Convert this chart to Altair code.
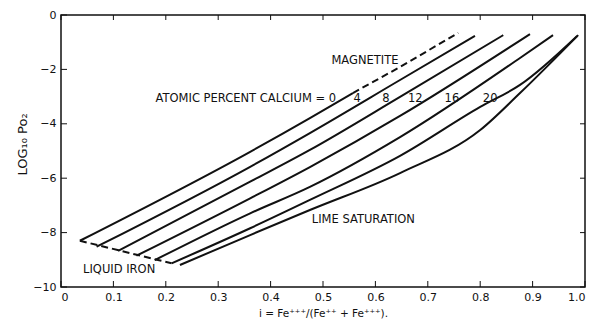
import altair as alt
import pandas as pd

# ---- data ----
x_ca0 = [0.036, 0.361, 0.475, 0.557]
y_ca0 = [-8.30, -5.03, -3.79, -2.87]
x_ca4 = [0.068, 0.361, 0.475, 0.647, 0.790]
y_ca4 = [-8.52, -5.58, -4.34, -2.39, -0.77]
x_ca8 = [0.109, 0.361, 0.475, 0.647, 0.844]
y_ca8 = [-8.67, -6.13, -4.96, -3.01, -0.74]
x_ca12 = [0.144, 0.361, 0.475, 0.647, 0.895]
y_ca12 = [-8.85, -6.74, -5.59, -3.71, -0.70]
x_ca16 = [0.179, 0.361, 0.475, 0.647, 0.876, 0.939]
y_ca16 = [-9.01, -7.29, -6.32, -4.49, -1.58, -0.74]
x_ca20 = [0.211, 0.361, 0.475, 0.647, 0.800, 0.876, 0.985]
y_ca20 = [-9.13, -7.84, -6.80, -5.18, -3.38, -2.57, -0.77]
x_lime = [0.227, 0.361, 0.475, 0.647, 0.800, 0.876, 0.987]
y_lime = [-9.19, -8.09, -7.17, -5.81, -4.23, -2.87, -0.74]

x_magnetite = [0.557, 0.647, 0.758]
y_magnetite = [-2.87, -1.91, -0.66]
x_liquid_iron = [0.036, 0.211]
y_liquid_iron = [-8.30, -9.13]

x_ticks = [0, 0.1, 0.2, 0.3, 0.4, 0.5, 0.6, 0.7, 0.8, 0.9, 1.0]
y_ticks = [0, -2, -4, -6, -8, -10]

ann_text = ["ATOMIC PERCENT CALCIUM = 0", "4", "8", "12", "16", "20",
            "MAGNETITE", "LIME SATURATION", "LIQUID IRON"]
ann_x = [0.525, 0.565, 0.620, 0.676, 0.746, 0.819, 0.580, 0.577, 0.111]
ann_y = [-3.09, -3.09, -3.09, -3.09, -3.09, -3.09, -1.68, -7.54, -9.38]
ann_align = ["right", "center", "center", "center", "center", "center",
             "center", "center", "center"]

solid = {
    "0": (x_ca0, y_ca0), "4": (x_ca4, y_ca4), "8": (x_ca8, y_ca8),
    "12": (x_ca12, y_ca12), "16": (x_ca16, y_ca16), "20": (x_ca20, y_ca20),
    "lime": (x_lime, y_lime),
}
rows = []
for name, (xs, ys) in solid.items():
    for i, (a, b) in enumerate(zip(xs, ys)):
        rows.append({"series": name, "i": i, "x": a, "y": b})
solid_df = pd.DataFrame(rows)

drows = []
for name, (xs, ys) in {"magnetite": (x_magnetite, y_magnetite),
                       "liquid": (x_liquid_iron, y_liquid_iron)}.items():
    for i, (a, b) in enumerate(zip(xs, ys)):
        drows.append({"series": name, "i": i, "x": a, "y": b})
dash_df = pd.DataFrame(drows)

ann_df = pd.DataFrame({"text": ann_text, "x": ann_x, "y": ann_y, "align": ann_align})
xt_df = pd.DataFrame({"x": x_ticks})
yt_df = pd.DataFrame({"y": y_ticks})

W, H = 524, 272
FONT = "DejaVu Sans"
INK = "#111111"

xs_ = alt.Scale(domain=[0, 1], nice=False, zero=False)
ys_ = alt.Scale(domain=[-10, 0], nice=False, zero=False)

xaxis = alt.Axis(
    title="i = Fe⁺⁺⁺/(Fe⁺⁺ + Fe⁺⁺⁺).", values=x_ticks,
    labelExpr="datum.value == 0 ? '0' : format(datum.value, '.1f')",
    ticks=False, domain=False, grid=False, labelPadding=4,
    labelFontSize=11, labelFont=FONT, labelColor=INK,
    titleFont=FONT, titleFontSize=10.5, titleFontWeight="normal", titleColor=INK,
    titleX=262, titleY=26, titleAlign="center", titleBaseline="middle",
)
yaxis = alt.Axis(
    title="LOG₁₀ Po₂", values=y_ticks,
    ticks=False, domain=False, grid=False, labelPadding=5,
    labelFontSize=11, labelFont=FONT, labelColor=INK,
    titleFont=FONT, titleFontSize=13, titleFontWeight="normal", titleColor=INK,
    titleAngle=270, titleX=-39, titleY=129, titleAlign="center", titleBaseline="middle",
)

X = alt.X("x:Q", scale=xs_, axis=xaxis)
Y = alt.Y("y:Q", scale=ys_, axis=yaxis)

lines = alt.Chart(solid_df).mark_line(
    color=INK, strokeWidth=2, interpolate="monotone"
).encode(x=X, y=Y, detail="series:N", order="i:Q")

dashed = alt.Chart(dash_df).mark_line(
    color=INK, strokeWidth=2, strokeDash=[7, 4]
).encode(x=X, y=Y, detail="series:N", order="i:Q")

xt_bottom = alt.Chart(xt_df).mark_rule(color=INK, strokeWidth=1).encode(
    x=X, y=alt.value(H), y2=alt.value(H - 6))
xt_top = alt.Chart(xt_df).mark_rule(color=INK, strokeWidth=1).encode(
    x=X, y=alt.value(0), y2=alt.value(5))
yt_left = alt.Chart(yt_df).mark_rule(color=INK, strokeWidth=1).encode(
    y=Y, x=alt.value(0), x2=alt.value(6))
yt_right = alt.Chart(yt_df).mark_rule(color=INK, strokeWidth=1).encode(
    y=Y, x=alt.value(W - 5), x2=alt.value(W))

text_r = alt.Chart(ann_df[ann_df["align"] == "right"]).mark_text(
    align="right", baseline="middle", font=FONT, fontSize=11.5, color=INK
).encode(x=X, y=Y, text="text:N")
text_c = alt.Chart(ann_df[ann_df["align"] == "center"]).mark_text(
    align="center", baseline="middle", font=FONT, fontSize=11.5, color=INK
).encode(x=X, y=Y, text="text:N")

chart = alt.layer(
    lines, dashed, xt_bottom, xt_top, yt_left, yt_right, text_r, text_c
).properties(
    width=W, height=H,
    autosize=alt.AutoSizeParams(type="none"),
    padding={"left": 61, "top": 15, "right": 4, "bottom": 38},
    background="white",
).configure_view(stroke=INK, strokeWidth=1.5)

chart.save("out.html", embed_options={"renderer": "svg", "actions": False})
